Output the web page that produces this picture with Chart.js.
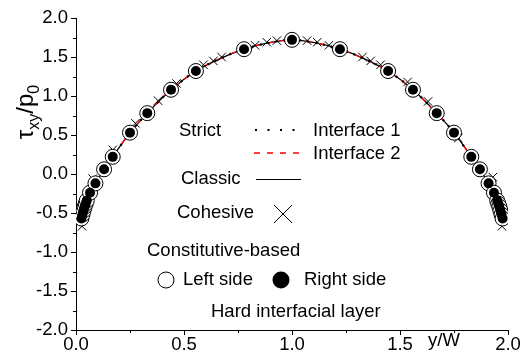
<!DOCTYPE html>
<html><head><meta charset="utf-8">
<script src="https://cdn.jsdelivr.net/npm/chart.js@4/dist/chart.umd.min.js"></script>
<style>html,body{margin:0;padding:0;background:#fff}canvas{display:block}</style>
</head><body>
<canvas id="c" width="523" height="360"></canvas>
<script>
// ---- data ----
const xTickValues = [0, 0.25, 0.5, 0.75, 1, 1.25, 1.5, 1.75, 2];
const yTickValues = [-2, -1.75, -1.5, -1.25, -1, -0.75, -0.5, -0.25, 0, 0.25, 0.5, 0.75, 1, 1.25, 1.5, 1.75, 2];

const curveX = [0.02, 0.03, 0.04, 0.05, 0.065, 0.09, 0.13, 0.17, 0.25, 0.33, 0.44, 0.555, 0.667, 0.778, 0.889, 1.0,
                1.111, 1.222, 1.333, 1.445, 1.56, 1.67, 1.75, 1.83, 1.87, 1.91, 1.935, 1.95, 1.96, 1.97, 1.98];
const classicY = [-0.63, -0.52, -0.42, -0.34, -0.24, -0.12, 0.06, 0.22, 0.53, 0.78, 1.08, 1.32, 1.48, 1.60, 1.68, 1.72,
                  1.68, 1.60, 1.48, 1.32, 1.08, 0.78, 0.53, 0.22, 0.06, -0.12, -0.24, -0.34, -0.42, -0.52, -0.63];
const interface1Y = [-0.63, -0.52, -0.42, -0.34, -0.24, -0.12, 0.06, 0.22, 0.53, 0.78, 1.08, 1.32, 1.48, 1.60, 1.68, 1.72,
                  1.68, 1.60, 1.48, 1.32, 1.08, 0.78, 0.53, 0.22, 0.06, -0.12, -0.24, -0.34, -0.42, -0.52, -0.63];
const interface2Y = [-0.65, -0.53, -0.43, -0.34, -0.24, -0.12, 0.06, 0.22, 0.53, 0.78, 1.08, 1.32, 1.48, 1.60, 1.68, 1.72,
                  1.68, 1.60, 1.48, 1.32, 1.08, 0.78, 0.53, 0.22, 0.06, -0.12, -0.24, -0.34, -0.43, -0.53, -0.65];

const cohesiveX = [0.028, 0.077, 0.17, 0.275, 0.38, 0.465, 0.59, 0.636, 0.674, 0.829, 0.883, 0.93,
                   1.07, 1.117, 1.171, 1.326, 1.364, 1.41, 1.535, 1.63, 1.77, 1.93, 1.972];
const cohesiveY = [-0.67, -0.06, 0.31, 0.65, 0.94, 1.16, 1.40, 1.45, 1.50, 1.65, 1.69, 1.71,
                   1.71, 1.69, 1.65, 1.50, 1.45, 1.40, 1.18, 0.93, 0.46, -0.04, -0.67];

const leftSideX = [0.025, 0.03, 0.035, 0.04, 0.045, 0.05, 0.065, 0.09, 0.13, 0.17, 0.25, 0.33, 0.44, 0.555, 0.778, 1.0,
                   1.222, 1.445, 1.56, 1.67, 1.75, 1.83, 1.87, 1.91, 1.935, 1.95, 1.955, 1.96, 1.965, 1.97, 1.975];
const leftSideY = [-0.57, -0.52, -0.47, -0.42, -0.38, -0.34, -0.24, -0.12, 0.06, 0.22, 0.53, 0.78, 1.08, 1.32, 1.60, 1.72,
                   1.60, 1.32, 1.08, 0.78, 0.53, 0.22, 0.06, -0.12, -0.24, -0.34, -0.38, -0.42, -0.47, -0.52, -0.57];
const rightSideX = [0.025, 0.03, 0.035, 0.04, 0.045, 0.05, 0.065, 0.09, 0.13, 0.17, 0.25, 0.33, 0.44, 0.555, 0.778, 1.0,
                   1.222, 1.445, 1.56, 1.67, 1.75, 1.83, 1.87, 1.91, 1.935, 1.95, 1.955, 1.96, 1.965, 1.97, 1.975];
const rightSideY = [-0.57, -0.52, -0.47, -0.42, -0.38, -0.34, -0.24, -0.12, 0.06, 0.22, 0.53, 0.78, 1.08, 1.32, 1.60, 1.72,
                   1.60, 1.32, 1.08, 0.78, 0.53, 0.22, 0.06, -0.12, -0.24, -0.34, -0.38, -0.42, -0.47, -0.52, -0.57];

const FONT = "'Liberation Sans', Arial, sans-serif";
const pts = (xs, ys) => xs.map((x, i) => ({x, y: ys[i]}));
const isMajor = v => Math.abs(v * 2 - Math.round(v * 2)) < 1e-6;

const overlay = {
  id: 'overlay',
  afterDraw(chart) {
    const ctx = chart.ctx;
    const xs = chart.scales.x, ys = chart.scales.y;
    ctx.save();
    ctx.strokeStyle = '#000';
    ctx.lineWidth = 1;
    // minor ticks
    ctx.beginPath();
    xTickValues.filter(v => !isMajor(v)).forEach(v => {
      const px = Math.round(xs.getPixelForValue(v)) + 0.5;
      ctx.moveTo(px, ys.bottom); ctx.lineTo(px, ys.bottom + 3);
    });
    yTickValues.filter(v => !isMajor(v)).forEach(v => {
      const py = Math.round(ys.getPixelForValue(v)) + 0.5;
      ctx.moveTo(xs.left, py); ctx.lineTo(xs.left - 3, py);
    });
    ctx.stroke();

    ctx.fillStyle = '#000';
    // y title
    ctx.save();
    ctx.translate(33, 112);
    ctx.rotate(-Math.PI / 2);
    ctx.textBaseline = 'alphabetic';
    ctx.textAlign = 'left';
    const big = '24px ' + FONT, small = '16px ' + FONT;
    const parts = [['τ', big, 0], ['xy', small, 6], ['/', big, 0], ['p', big, 0], ['0', small, 6]];
    let tw = 0;
    parts.forEach(p => { ctx.font = p[1]; tw += ctx.measureText(p[0]).width; });
    let cx = -tw / 2;
    parts.forEach(p => { ctx.font = p[1]; ctx.fillText(p[0], cx, p[2]); cx += ctx.measureText(p[0]).width; });
    ctx.restore();

    // x title
    ctx.font = '18.5px ' + FONT;
    ctx.textBaseline = 'middle';
    ctx.textAlign = 'left';
    ctx.fillText('y/W', 428, 341);

    // legend texts
    const T = (s, x, y) => ctx.fillText(s, x, y);
    T('Strict', 179, 131);
    T('Interface 1', 313, 131);
    T('Interface 2', 313, 154);
    T('Classic', 181, 179);
    T('Cohesive', 177, 213);
    T('Constitutive-based', 147, 251);
    T('Left side', 183, 280);
    T('Right side', 304, 280);
    T('Hard interfacial layer', 211, 312);

    // legend samples
    ctx.lineWidth = 2;
    ctx.setLineDash([2, 10.5]);
    ctx.beginPath(); ctx.moveTo(255, 130); ctx.lineTo(296, 130); ctx.stroke();
    ctx.strokeStyle = '#ff0000';
    ctx.lineWidth = 1.3;
    ctx.setLineDash([6, 7]);
    ctx.beginPath(); ctx.moveTo(254, 153); ctx.lineTo(304, 153); ctx.stroke();
    ctx.setLineDash([]);
    ctx.strokeStyle = '#000';
    ctx.lineWidth = 1;
    ctx.beginPath(); ctx.moveTo(256, 179.5); ctx.lineTo(301, 179.5); ctx.stroke();
    ctx.beginPath();
    ctx.moveTo(274, 205); ctx.lineTo(292, 223);
    ctx.moveTo(292, 205); ctx.lineTo(274, 223);
    ctx.stroke();
    ctx.beginPath(); ctx.arc(166, 280, 8, 0, Math.PI * 2);
    ctx.fillStyle = '#fff'; ctx.fill(); ctx.stroke();
    ctx.beginPath(); ctx.arc(281, 280, 8.5, 0, Math.PI * 2);
    ctx.fillStyle = '#000'; ctx.fill();
    ctx.restore();
  }
};

new Chart(document.getElementById('c'), {
  type: 'scatter',
  data: {
    datasets: [
      { label: 'Right side', data: pts(rightSideX, rightSideY), order: 0,
        pointStyle: 'circle', pointRadius: 5, backgroundColor: '#000', borderColor: '#000', borderWidth: 0 },
      { label: 'Left side', data: pts(leftSideX, leftSideY), order: 1,
        pointStyle: 'circle', pointRadius: 7.5, backgroundColor: '#fff', borderColor: '#000', borderWidth: 1 },
      { label: 'Cohesive', data: pts(cohesiveX, cohesiveY), order: 2,
        pointStyle: 'crossRot', pointRadius: 6, borderColor: '#000', borderWidth: 1 },
      { label: 'Interface 1', data: pts(curveX, interface1Y), order: 3, showLine: true, pointRadius: 0,
        borderColor: '#000', borderWidth: 2.2, borderDash: [2, 6], cubicInterpolationMode: 'monotone' },
      { label: 'Interface 2', data: pts(curveX, interface2Y), order: 4, showLine: true, pointRadius: 0,
        borderColor: '#ff0000', borderWidth: 1.3, borderDash: [6, 7], cubicInterpolationMode: 'monotone' },
      { label: 'Classic', data: pts(curveX, classicY), order: 5, showLine: true, pointRadius: 0,
        borderColor: '#000', borderWidth: 1.3, cubicInterpolationMode: 'monotone' }
    ]
  },
  options: {
    responsive: false,
    animation: false,
    devicePixelRatio: 1,
    layout: { padding: { top: 18, right: 15, left: 0, bottom: 0 } },
    plugins: { legend: { display: false }, tooltip: { enabled: false } },
    scales: {
      x: {
        type: 'linear', min: 0, max: 2,
        afterBuildTicks: s => { s.ticks = xTickValues.map(v => ({ value: v })); },
        afterFit: s => { s.height = 30; },
        ticks: { autoSkip: false, maxRotation: 0, padding: -1, color: '#000',
          font: { family: FONT, size: 18.5 },
          callback: v => isMajor(v) ? v.toFixed(1) : '' },
        grid: { drawOnChartArea: false, tickLength: 5, tickWidth: 1,
          tickColor: c => (c.tick && isMajor(c.tick.value)) ? '#000' : 'rgba(0,0,0,0)' },
        border: { display: true, color: '#000', width: 1 }
      },
      y: {
        type: 'linear', min: -2, max: 2,
        afterBuildTicks: s => { s.ticks = yTickValues.map(v => ({ value: v })); },
        afterFit: s => { s.width = 76; },
        ticks: { autoSkip: false, padding: 3, color: '#000',
          font: { family: FONT, size: 18.5 },
          callback: v => isMajor(v) ? v.toFixed(1) : '' },
        grid: { drawOnChartArea: false, tickLength: 5, tickWidth: 1,
          tickColor: c => (c.tick && isMajor(c.tick.value)) ? '#000' : 'rgba(0,0,0,0)' },
        border: { display: true, color: '#000', width: 1 }
      }
    }
  },
  plugins: [overlay]
});
</script>
</body></html>
